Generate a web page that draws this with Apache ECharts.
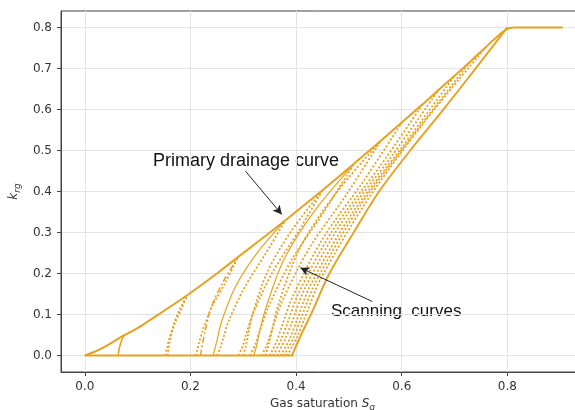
<!DOCTYPE html>
<html>
<head>
<meta charset="utf-8">
<title>krg hysteresis</title>
<script src="https://cdn.jsdelivr.net/npm/echarts@6/dist/echarts.min.js"></script>
<style>
  html, body { margin: 0; padding: 0; background: #fff; }
  #chart { width: 575px; height: 410px; }
</style>
</head>
<body>
<div id="chart"></div>
<script>
// tick labels
var xTicks = [0, 0.2, 0.4, 0.6, 0.8];
var yTicks = [0, 0.1, 0.2, 0.3, 0.4, 0.5, 0.6, 0.7, 0.8];

// primary drainage curve [Sg, krg]
var drainage = [[0, 0], [0.02, 0.01], [0.04, 0.023], [0.074, 0.049], [0.1, 0.067], [0.137, 0.098],
  [0.194, 0.147], [0.25, 0.2], [0.29, 0.24], [0.38, 0.33], [0.45, 0.403], [0.51, 0.468],
  [0.56, 0.523], [0.6, 0.568], [0.64, 0.613], [0.67, 0.648], [0.7, 0.682], [0.73, 0.717],
  [0.76, 0.753], [0.79, 0.788], [0.803, 0.798], [0.815, 0.8], [0.905, 0.8]];
// krg = 0 below the trapped gas saturation
var zeroLine = [[0, 0], [0.395, 0]];

// scanning curves, each from the Sg axis up to its turning point on the drainage curve
var scanA = [[0.063, 0], [0.065, 0.015], [0.068, 0.03], [0.071, 0.041], [0.074, 0.049]];
var scanB1 = [[0.152, 0], [0.154, 0.009], [0.156, 0.019], [0.159, 0.037], [0.169, 0.074], [0.182, 0.111], [0.194, 0.147]];
var scanB2 = [[0.157, 0], [0.158, 0.009], [0.159, 0.019], [0.161, 0.037], [0.168, 0.074], [0.179, 0.111], [0.194, 0.147]];
var scanC1 = [[0.209, 0], [0.213, 0.014], [0.216, 0.03], [0.223, 0.06], [0.241, 0.12], [0.267, 0.18], [0.29, 0.24]];
var scanC2 = [[0.219, 0], [0.221, 0.014], [0.223, 0.03], [0.228, 0.06], [0.24, 0.12], [0.262, 0.18], [0.29, 0.24]];
var scanD1 = [[0.25, 0], [0.257, 0.02], [0.262, 0.041], [0.272, 0.083], [0.302, 0.165], [0.342, 0.248], [0.38, 0.33]];
var scanD2 = [[0.243, 0], [0.247, 0.02], [0.251, 0.041], [0.259, 0.083], [0.284, 0.165], [0.325, 0.248], [0.38, 0.33]];
var scanE1 = [[0.291, 0], [0.299, 0.024], [0.305, 0.05], [0.318, 0.101], [0.355, 0.202], [0.404, 0.302], [0.45, 0.403]];
var scanE2 = [[0.3, 0], [0.305, 0.024], [0.309, 0.05], [0.318, 0.101], [0.345, 0.202], [0.39, 0.302], [0.45, 0.403]];
var scanF1 = [[0.313, 0], [0.323, 0.028], [0.331, 0.059], [0.347, 0.117], [0.392, 0.234], [0.453, 0.351], [0.51, 0.468]];
var scanF2 = [[0.32, 0], [0.326, 0.028], [0.331, 0.059], [0.343, 0.117], [0.377, 0.234], [0.434, 0.351], [0.51, 0.468]];
var scanG1 = [[0.335, 0], [0.346, 0.031], [0.355, 0.065], [0.373, 0.131], [0.425, 0.262], [0.495, 0.392], [0.56, 0.523]];
var scanG2 = [[0.342, 0], [0.349, 0.031], [0.355, 0.065], [0.368, 0.131], [0.407, 0.262], [0.473, 0.392], [0.56, 0.523]];
var scanH = [[0.35, 0], [0.363, 0.034], [0.373, 0.071], [0.393, 0.142], [0.45, 0.284], [0.528, 0.426], [0.6, 0.568]];
var scanI = [[0.357, 0], [0.371, 0.037], [0.383, 0.077], [0.405, 0.153], [0.47, 0.307], [0.558, 0.46], [0.64, 0.613]];
var scanJ = [[0.364, 0], [0.379, 0.039], [0.392, 0.081], [0.416, 0.162], [0.486, 0.324], [0.581, 0.486], [0.67, 0.648]];
var scanK = [[0.371, 0], [0.388, 0.041], [0.401, 0.085], [0.427, 0.171], [0.503, 0.341], [0.603, 0.512], [0.7, 0.682]];
var scanL = [[0.377, 0], [0.395, 0.043], [0.409, 0.09], [0.437, 0.179], [0.518, 0.359], [0.622, 0.538], [0.73, 0.717]];
var scanM = [[0.383, 0], [0.402, 0.045], [0.417, 0.094], [0.447, 0.188], [0.534, 0.377], [0.64, 0.565], [0.76, 0.753]];
// bounding curve from the maximum saturation
var boundary = [[0.392, 0], [0.41, 0.052], [0.43, 0.106], [0.463, 0.2], [0.509, 0.3], [0.557, 0.4],
  [0.616, 0.5], [0.679, 0.6], [0.74, 0.7], [0.8, 0.8]];

// annotation arrows [from, to]
var arrowDrainage = [[0.304, 0.45], [0.373, 0.344]];
var arrowScan = [[0.544, 0.132], [0.408, 0.214]];

var orange = '#e6a11f';
var dotted = [2, 2];
var dashDot = [6, 2.5, 2, 2.5];

function curve(data, type, width) {
  return {
    type: 'line',
    data: data,
    showSymbol: false,
    smooth: 0.3,
    silent: true,
    lineStyle: { color: orange, width: width, type: type },
    z: 2
  };
}

var series = [
  curve(zeroLine, 'solid', 2),
  curve(scanA, 'solid', 1.6),
  curve(scanB1, dotted, 1.8),
  curve(scanB2, dotted, 1.8),
  curve(scanC1, dotted, 1.8),
  curve(scanC2, dashDot, 1.5),
  curve(scanD1, dotted, 1.8),
  curve(scanD2, 'solid', 1.2),
  curve(scanE1, dotted, 1.8),
  curve(scanE2, dotted, 1.8),
  curve(scanF1, dotted, 1.8),
  curve(scanF2, 'solid', 1.2),
  curve(scanG1, dotted, 1.8),
  curve(scanG2, dotted, 1.8),
  curve(scanH, dotted, 1.8),
  curve(scanI, dotted, 1.8),
  curve(scanJ, dotted, 1.8),
  curve(scanK, dotted, 1.8),
  curve(scanL, dotted, 1.8),
  curve(scanM, dotted, 1.8),
  curve(boundary, 'solid', 1.9)
];

var main = curve(drainage, 'solid', 2);
main.smooth = 0.15;
main.z = 3;
main.markLine = {
  silent: true,
  animation: false,
  symbol: ['none', 'arrow'],
  symbolSize: [7, 9],
  label: { show: false },
  lineStyle: { color: '#222', width: 1, type: 'solid' },
  data: [
    [{ coord: arrowDrainage[0] }, { coord: arrowDrainage[1] }],
    [{ coord: arrowScan[0] }, { coord: arrowScan[1] }]
  ]
};
series.push(main);

var font = 'DejaVu Sans';
var myChart = echarts.init(document.getElementById('chart'));
var option = {
  animation: false,
  backgroundColor: '#fff',
  grid: {
    left: 61, top: 11, right: -9, bottom: 38,
    outerBoundsMode: 'none',
    show: true, borderColor: '#444', borderWidth: 1
  },
  xAxis: {
    type: 'value',
    min: -0.045,
    max: 0.945,
    name: 'Gas saturation {i|S}{s|g}',
    nameLocation: 'middle',
    nameGap: 23,
    nameTextStyle: {
      fontFamily: font, fontSize: 12, color: '#333',
      rich: {
        i: { fontFamily: font, fontSize: 12, fontStyle: 'italic', color: '#333', lineHeight: 16 },
        s: { fontFamily: font, fontSize: 9, fontStyle: 'italic', color: '#333', lineHeight: 9, verticalAlign: 'bottom' }
      }
    },
    axisLine: { onZero: false, lineStyle: { color: '#444', width: 1 } },
    axisTick: { customValues: xTicks, length: 4, lineStyle: { color: '#444' } },
    axisLabel: {
      customValues: xTicks, margin: 9, fontFamily: font, fontSize: 12, color: '#333',
      formatter: function (v) { return v.toFixed(1); }
    },
    splitLine: { show: true, lineStyle: { color: '#e3e3e3', width: 1 } }
  },
  yAxis: {
    type: 'value',
    min: -0.04,
    max: 0.84,
    name: '{i|k}{s|rg}',
    nameLocation: 'middle',
    nameRotate: 90,
    nameGap: 33,
    nameTextStyle: {
      fontFamily: font, fontSize: 12, color: '#333',
      rich: {
        i: { fontFamily: font, fontSize: 12, fontStyle: 'italic', color: '#333', lineHeight: 16 },
        s: { fontFamily: font, fontSize: 9, fontStyle: 'italic', color: '#333', lineHeight: 9, verticalAlign: 'bottom' }
      }
    },
    axisLine: { show: true, onZero: false, lineStyle: { color: '#444', width: 1 } },
    axisTick: { show: true, customValues: yTicks, length: 4, lineStyle: { color: '#444' } },
    axisLabel: {
      customValues: yTicks, margin: 9, fontFamily: font, fontSize: 12, color: '#333',
      formatter: function (v) { return v.toFixed(1); }
    },
    splitLine: { show: true, lineStyle: { color: '#e3e3e3', width: 1 } }
  },
  graphic: [
    {
      type: 'text', left: 153, top: 152, silent: true,
      style: { text: 'Primary drainage curve', font: '18px "Liberation Sans", Arial, sans-serif', fill: '#111' }
    },
    {
      type: 'text', left: 331, top: 303, silent: true,
      style: { text: 'Scanning  curves', font: '17px "Liberation Sans", Arial, sans-serif', fill: '#111' }
    }
  ],
  series: series
};

myChart.setOption(option);
window.addEventListener('resize', function () {
  myChart.resize();
});
</script>
</body>
</html>
